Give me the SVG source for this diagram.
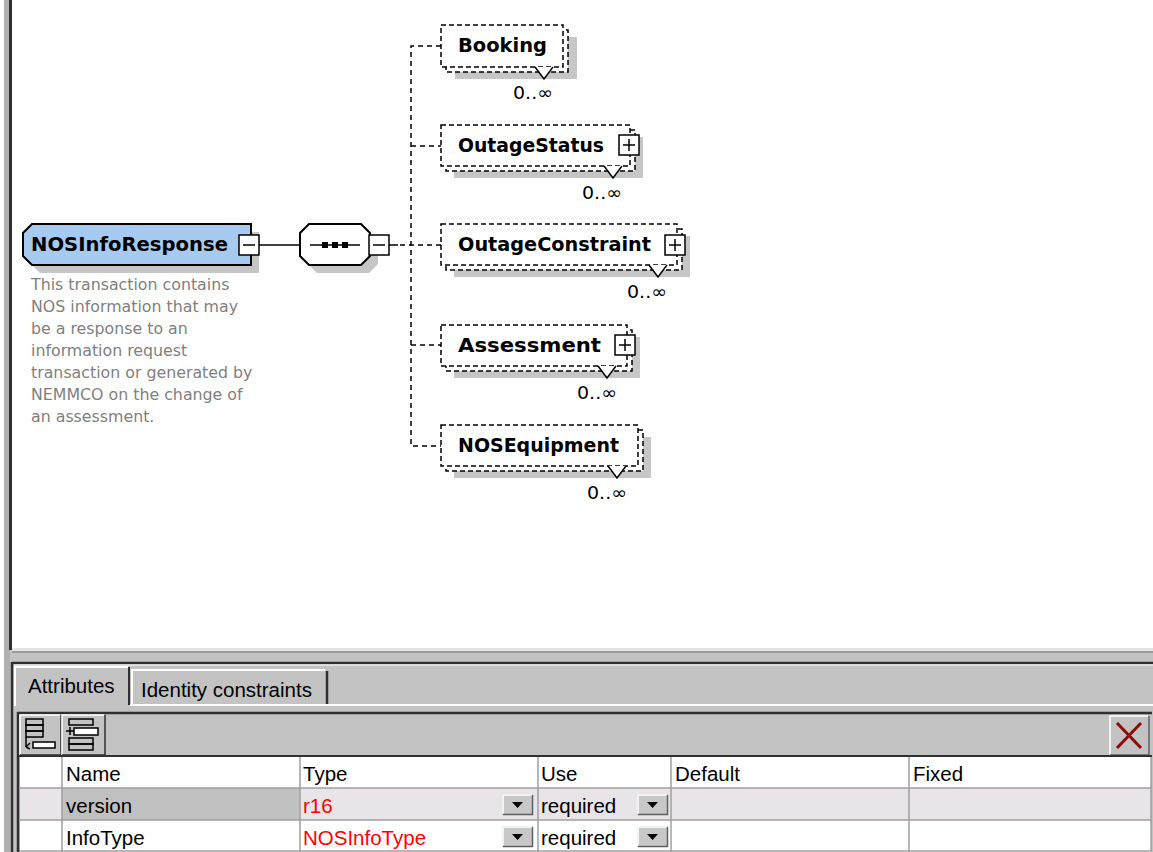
<svg xmlns="http://www.w3.org/2000/svg" width="1153" height="852" viewBox="0 0 1153 852">
<style>
.lbl{font-family:"DejaVu Sans",Verdana,sans-serif;font-weight:bold;font-size:19.5px;fill:#000}
.card{font-family:"DejaVu Sans",Verdana,sans-serif;font-size:18px;fill:#000;text-anchor:end}
.desc{font-family:"DejaVu Sans",Tahoma,sans-serif;font-size:15.8px;fill:#808080}
.ui{font-family:"Liberation Sans",Arial,sans-serif;font-size:20.5px;fill:#000}
.red{fill:#ff0000}
.dash{fill:#fff;stroke:#000;stroke-width:1.5;stroke-dasharray:5 3}
.shadow{fill:#c6c6c6;stroke:none}
.box{fill:#fff;stroke:#000;stroke-width:1.5}
.ln{stroke:#000;stroke-width:1.5;fill:none}
.dln{stroke:#000;stroke-width:1.5;fill:none;stroke-dasharray:5 4}
.grid{stroke:#a0a0a0;stroke-width:1.5;fill:none}
.hi{stroke:#fff;fill:none}
</style>
<defs>
<g id="plus"><rect class="box" x="0" y="0" width="20" height="20"/><path class="ln" d="M4 10H16M10 4V16"/></g>
<g id="minus"><rect class="box" x="0" y="0" width="20" height="20"/><path class="ln" d="M4 10H16"/></g>
<g id="dd"><rect x="0" y="0" width="31" height="21" fill="#c8c8c8"/><path class="hi" d="M1 20V1H30" stroke-width="1.5"/><path d="M1 20.5H30.5V1" stroke="#606060" stroke-width="1.5" fill="none"/><polygon points="10,8 21,8 15.5,14" fill="#000"/></g>
</defs>

<!-- backgrounds -->
<rect x="0" y="0" width="1153" height="852" fill="#c3c3c3"/>
<rect x="12" y="0" width="1141" height="648" fill="#fff"/>
<rect x="0" y="0" width="4" height="852" fill="#fff"/>
<rect x="4" y="0" width="6" height="852" fill="#b0b0b0"/>
<rect x="9" y="0" width="3" height="650" fill="#303030"/>
<rect x="12" y="648" width="1141" height="3" fill="#e4e4e4"/>
<rect x="12" y="651" width="1141" height="2" fill="#9a9a9a"/>

<!-- connectors -->
<g id="connectors">
<path class="ln" d="M259 245H300"/>
<path class="ln" d="M389 245H398"/>
<path class="dln" d="M400 245H441"/>
<path class="dln" d="M441 46H411V446H441"/>
<path class="dln" d="M411 146H441"/>
<path class="dln" d="M411 345H441"/>
</g>

<!-- root node -->
<g id="NOSInfoResponse">
<polygon class="shadow" points="40,232 259,232 259,273 40,273 31,264 31,241"/>
<polygon points="32,224 251,224 251,265 32,265 23,256 23,233" fill="#a6caf0" stroke="#000" stroke-width="2"/>
<text class="lbl" x="31" y="251" textLength="197" lengthAdjust="spacingAndGlyphs">NOSInfoResponse</text>
<use href="#minus" x="239" y="235"/>
<text class="desc" x="31" y="290">This transaction contains</text>
<text class="desc" x="31" y="312">NOS information that may</text>
<text class="desc" x="31" y="334">be a response to an</text>
<text class="desc" x="31" y="356">information request</text>
<text class="desc" x="31" y="378">transaction or generated by</text>
<text class="desc" x="31" y="400">NEMMCO on the change of</text>
<text class="desc" x="31" y="422">an assessment.</text>
</g>

<!-- sequence -->
<g id="sequence">
<polygon class="shadow" points="317,232 369,232 378,241 378,264 369,273 317,273 308,264 308,241"/>
<polygon points="309,224 361,224 370,233 370,256 361,265 309,265 300,256 300,233" fill="#fff" stroke="#000" stroke-width="2"/>
<path class="ln" d="M310 245H360"/>
<rect x="322" y="242" width="6" height="6" fill="#000"/>
<rect x="332" y="242" width="6" height="6" fill="#000"/>
<rect x="342" y="242" width="6" height="6" fill="#000"/>
<use href="#minus" x="369" y="235"/>
</g>

<!-- Booking -->
<g id="Booking">
<rect class="shadow" x="455" y="37" width="122" height="42"/>
<rect class="dash" x="446" y="30" width="122" height="42"/>
<rect class="dash" x="441" y="25" width="122" height="42"/>
<polygon points="535,67 544,79 553,67" fill="#fff"/>
<polyline class="ln" points="535,67 544,79 553,67"/>
<text class="lbl" x="458" y="52" textLength="89" lengthAdjust="spacingAndGlyphs">Booking</text>
<text class="card" x="553" y="99" textLength="40" lengthAdjust="spacingAndGlyphs">0..∞</text>
</g>

<!-- OutageStatus -->
<g id="OutageStatus">
<rect class="shadow" x="454" y="137" width="189" height="41"/>
<rect class="dash" x="446" y="130" width="189" height="41"/>
<rect class="dash" x="441" y="125" width="189" height="41"/>
<polygon points="604,166 613,178 622,166" fill="#fff"/>
<polyline class="ln" points="604,166 613,178 622,166"/>
<text class="lbl" x="458" y="152" textLength="146" lengthAdjust="spacingAndGlyphs">OutageStatus</text>
<use href="#plus" x="619" y="135"/>
<text class="card" x="622" y="199" textLength="40" lengthAdjust="spacingAndGlyphs">0..∞</text>
</g>

<!-- OutageConstraint -->
<g id="OutageConstraint">
<rect class="shadow" x="454" y="236" width="236" height="41"/>
<rect class="dash" x="446" y="229" width="236" height="41"/>
<rect class="dash" x="441" y="224" width="236" height="41"/>
<polygon points="649,265 658,277 667,265" fill="#fff"/>
<polyline class="ln" points="649,265 658,277 667,265"/>
<text class="lbl" x="458" y="251" textLength="193" lengthAdjust="spacingAndGlyphs">OutageConstraint</text>
<use href="#plus" x="665" y="235"/>
<text class="card" x="667" y="298" textLength="40" lengthAdjust="spacingAndGlyphs">0..∞</text>
</g>

<!-- Assessment -->
<g id="Assessment">
<rect class="shadow" x="454" y="337" width="186" height="41"/>
<rect class="dash" x="446" y="330" width="186" height="41"/>
<rect class="dash" x="441" y="325" width="186" height="41"/>
<polygon points="598,366 607,378 616,366" fill="#fff"/>
<polyline class="ln" points="598,366 607,378 616,366"/>
<text class="lbl" x="458" y="352" textLength="143" lengthAdjust="spacingAndGlyphs">Assessment</text>
<use href="#plus" x="615" y="335"/>
<text class="card" x="617" y="399" textLength="40" lengthAdjust="spacingAndGlyphs">0..∞</text>
</g>

<!-- NOSEquipment -->
<g id="NOSEquipment">
<rect class="shadow" x="454" y="437" width="197" height="41"/>
<rect class="dash" x="446" y="430" width="197" height="41"/>
<rect class="dash" x="441" y="425" width="197" height="41"/>
<polygon points="608,466 617,478 626,466" fill="#fff"/>
<polyline class="ln" points="608,466 617,478 626,466"/>
<text class="lbl" x="458" y="452" textLength="161" lengthAdjust="spacingAndGlyphs">NOSEquipment</text>
<text class="card" x="627" y="499" textLength="40" lengthAdjust="spacingAndGlyphs">0..∞</text>
</g>

<!-- bottom panel -->
<g id="panel">
<path d="M12 663H1153" stroke="#303030" stroke-width="2.5"/>
<path d="M12 662V852" stroke="#303030" stroke-width="2.5"/>
<path d="M14 665H1153" stroke="#e8e8e8" stroke-width="1.5"/>
<!-- tabs -->
<path d="M130 705H1153" stroke="#fff" stroke-width="2"/>
<path d="M15 706V667H128" stroke="#fff" stroke-width="2" fill="none"/>
<path d="M129 667V705" stroke="#303030" stroke-width="2"/>
<text class="ui" x="28" y="693">Attributes</text>
<path d="M132 705V670H325" stroke="#fff" stroke-width="2" fill="none"/>
<path d="M327 671V704" stroke="#303030" stroke-width="2.5"/>
<text class="ui" x="141" y="697">Identity constraints</text>
<!-- toolbar frame -->
<path d="M18 852V713H1152" stroke="#303030" stroke-width="2.5" fill="none"/>
<g id="btn1">
<path d="M20 755V715H60" stroke="#fff" stroke-width="1.5" fill="none"/>
<path d="M20 755H61V715" stroke="#303030" stroke-width="1.5" fill="none"/>
<rect x="26" y="719" width="17" height="6" fill="none" stroke="#000" stroke-width="1.5"/>
<rect x="26" y="725" width="17" height="6" fill="none" stroke="#000" stroke-width="1.5"/>
<rect x="26" y="731" width="17" height="6" fill="none" stroke="#000" stroke-width="1.5"/>
<path d="M26 737V747" stroke="#000" stroke-width="1.5"/>
<rect x="33" y="742" width="22" height="6" fill="#fff" stroke="#000" stroke-width="1.5"/>
<path d="M26 747L30 743M26 747L30 749" stroke="#000" stroke-width="1.5"/>
</g>
<g id="btn2">
<path d="M62 755V715H104" stroke="#fff" stroke-width="1.5" fill="none"/>
<path d="M62 755H105V715" stroke="#303030" stroke-width="1.5" fill="none"/>
<rect x="69" y="719" width="24" height="6" fill="none" stroke="#000" stroke-width="1.5"/>
<rect x="74" y="728" width="24" height="7" fill="#fff" stroke="#000" stroke-width="1.5"/>
<path d="M66 731H74M70 727V735" stroke="#000" stroke-width="1.5"/>
<rect x="69" y="738" width="24" height="6" fill="none" stroke="#000" stroke-width="1.5"/>
<rect x="69" y="744" width="24" height="6" fill="none" stroke="#000" stroke-width="1.5"/>
</g>
<g id="btnDelete">
<path d="M1110 755V716H1148" stroke="#fff" stroke-width="1.5" fill="none"/>
<path d="M1110 755H1149V716" stroke="#606060" stroke-width="1.5" fill="none"/>
<path d="M1117 723L1141 748M1141 723L1117 748" stroke="#8b0a0a" stroke-width="3"/>
</g>
<!-- table -->
<rect x="20" y="757" width="1131" height="95" fill="#fff"/>
<path d="M18 756H1152" stroke="#303030" stroke-width="2"/>
<rect x="20" y="788" width="1131" height="32" fill="#e8e4e8"/>
<rect x="62" y="788" width="238" height="32" fill="#c0c0c0"/>
<path class="grid" d="M20 788H1151M20 820H1151M20 851H1151M62 757V852M300 757V852M538 757V852M671 757V852M909 757V852M1151 757V852"/>
<text class="ui" x="66" y="781">Name</text>
<text class="ui" x="303" y="781">Type</text>
<text class="ui" x="541" y="781">Use</text>
<text class="ui" x="675" y="781">Default</text>
<text class="ui" x="913" y="781">Fixed</text>
<text class="ui" x="66" y="813">version</text>
<text class="ui red" x="303" y="813">r16</text>
<use href="#dd" x="502" y="794"/>
<text class="ui" x="541" y="813">required</text>
<use href="#dd" x="637" y="794"/>
<text class="ui" x="66" y="845">InfoType</text>
<text class="ui red" x="303" y="845">NOSInfoType</text>
<use href="#dd" x="502" y="826"/>
<text class="ui" x="541" y="845">required</text>
<use href="#dd" x="637" y="826"/>
</g>
</svg>
